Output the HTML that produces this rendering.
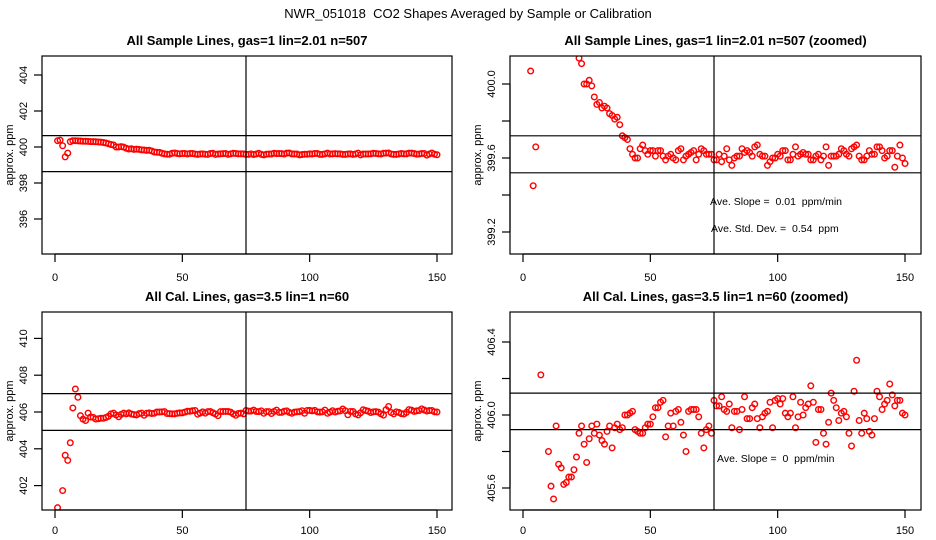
<!DOCTYPE html>
<html><head><meta charset="utf-8"><style>
html,body{margin:0;padding:0;background:#fff;overflow:hidden;width:936px;height:540px;}
svg{display:block;}
svg text{font-family:"Liberation Sans",Arial,sans-serif;fill:#000;white-space:pre;}
</style></head><body>
<svg id="chart" width="936" height="540" viewBox="0 0 936 540" xmlns="http://www.w3.org/2000/svg">
<text x="468" y="18" text-anchor="middle" font-size="13">NWR_051018  CO2 Shapes Averaged by Sample or Calibration</text>
</svg>
<script>
const sampleValues = [400.35,400.38,400.07,399.45,399.66,400.3,400.35,400.35,400.34,400.33,400.32,400.32,400.31,400.3,400.3,400.29,400.28,400.27,400.25,400.22,400.18,400.14,400.11,400.0,400.0,400.02,399.99,399.93,399.89,399.9,399.87,399.88,399.87,399.84,399.83,399.81,399.82,399.78,399.72,399.71,399.70,399.65,399.62,399.60,399.60,399.65,399.67,399.64,399.62,
399.64,399.64,399.61,399.64,399.64,399.61,399.59,399.61,399.62,399.60,
399.59,399.64,399.65,399.59,399.61,399.62,399.63,399.64,399.59,399.62,
399.65,399.64,399.62,399.62,399.62,399.59,399.59,399.62,399.58,399.61,
399.65,399.59,399.56,399.60,399.61,399.61,399.65,399.63,399.64,399.63,
399.61,399.66,399.67,399.62,399.61,399.61,399.56,399.58,399.60,399.60,
399.62,399.61,399.64,399.64,399.59,399.59,399.62,399.66,399.61,399.62,
399.63,399.62,399.62,399.59,399.59,399.61,399.62,399.59,399.61,399.66,
399.56,399.61,399.61,399.61,399.62,399.65,399.64,399.62,399.61,399.65,
399.66,399.67,399.61,399.59,399.59,399.61,399.64,399.62,399.62,399.66,
399.66,399.64,399.60,399.61,399.64,399.64,399.55,399.61,399.67,399.60,399.57];
const calValues = [400.8,400.5,401.73,403.65,403.37,404.33,406.22,407.25,406.8,405.80,
405.61,405.54,405.94,405.73,405.71,405.62,405.63,405.66,405.66,405.70,
405.77,405.90,405.94,405.84,405.74,405.87,405.94,405.90,405.95,405.89,
405.86,405.84,405.91,405.94,405.82,405.93,405.95,405.92,405.93,406.00,
406.00,406.01,406.02,405.92,405.91,405.90,405.90,405.93,405.95,405.95,
405.99,406.04,406.04,406.07,406.08,405.88,405.94,406.01,405.94,406.02,
406.03,405.96,405.89,405.80,406.02,406.03,406.03,406.03,405.99,405.90,
405.82,405.92,405.94,405.90,406.08,406.05,406.05,406.10,406.03,406.02,
406.06,405.93,406.02,406.02,405.92,406.03,406.10,405.98,405.98,406.04,
406.06,405.98,405.93,405.99,406.01,406.02,406.07,405.93,406.08,406.09,
406.06,406.09,406.01,405.99,406.01,406.10,405.93,405.99,406.07,406.00,
406.04,406.06,406.16,406.07,405.85,406.03,406.03,405.90,405.84,405.96,
406.12,406.08,406.04,405.97,406.01,406.02,405.99,405.90,405.83,406.13,
406.30,405.97,405.90,406.01,405.98,405.91,405.89,405.98,406.13,406.10,
406.03,406.06,406.08,406.17,406.11,406.05,406.08,406.08,406.01,406.00];
const xTicks = [0,50,100,150];
const ticksSampleFull = [396,398,400,402,404];
const ticksSampleZoom = [399.2,399.4,399.6,399.8,400.0];
const labelsSampleZoom = ["399.2","","399.6","","400.0"];
const ticksCalFull = [402,404,406,408,410];
const ticksCalZoom = [405.6,405.8,406.0,406.2,406.4];
const labelsCalZoom = ["405.6","","406.0","","406.4"];
const hlinesSampleFull = [398.63,400.63];
const hlinesSampleZoom = [399.52,399.72];
const hlinesCalFull = [405,407];
const hlinesCalZoom = [405.92,406.12];
const vlineX = 75;

const NS="http://www.w3.org/2000/svg";
const svg=document.getElementById('chart');
function mk(tag,attrs,parent){const e=document.createElementNS(NS,tag);for(const k in attrs)e.setAttribute(k,attrs[k]);(parent||svg).appendChild(e);return e;}

function panel(id,title,box,x0px,x150px,yRef,yRefPx,pxPerPpm,values,ticks,labels,hlines,notes,labOff){
  const g=mk('g',{});
  
  
  const sx=v=>x0px+(x150px-x0px)*v/150;
  const sy=v=>yRefPx-(v-yRef)*pxPerPpm;
  const t=mk('text',{x:(box.l+box.r)/2,y:box.t-11,'text-anchor':'middle','font-size':13,'font-weight':'bold'},g);
  t.textContent=title;
  
  
  const cp=mk('clipPath',{id:'clip-'+id},g);
  mk('rect',{x:box.l,y:box.t,width:box.r-box.l,height:box.b-box.t},cp);
  const pts=mk('g',{'clip-path':'url(#clip-'+id+')'},g);
  
  
  values.forEach((v,i)=>{
    const cy=sy(v);
    if(cy<box.t-4||cy>box.b+4) return;
    const c=mk('circle',{cx:sx(i+1),cy:cy,r:2.8,fill:'none',stroke:'#ff0000','stroke-width':1.4},pts);
    
    
  });
  hlines.forEach(h=>{
    const l=mk('line',{x1:box.l,x2:box.r,y1:sy(h),y2:sy(h),stroke:'#000','stroke-width':1.2},g);
    
    
  });
  const vl=mk('line',{x1:sx(vlineX),x2:sx(vlineX),y1:box.t,y2:box.b,stroke:'#000','stroke-width':1.2},g);
  
  
  const fr=mk('rect',{x:box.l,y:box.t,width:box.r-box.l,height:box.b-box.t,fill:'none',stroke:'#000','stroke-width':1.2},g);
  
  
  mk('line',{x1:sx(0),x2:sx(150),y1:box.b,y2:box.b,stroke:'#000','stroke-width':1.2},g);
  xTicks.forEach(v=>{
    mk('line',{x1:sx(v),x2:sx(v),y1:box.b,y2:box.b+8,stroke:'#000','stroke-width':1.2},g);
    const tl=mk('text',{x:sx(v),y:box.b+labOff,'text-anchor':'middle','font-size':11},g);
    tl.textContent=v;
    
    
  });
  mk('line',{x1:box.l,x2:box.l,y1:sy(ticks[0]),y2:sy(ticks[ticks.length-1]),stroke:'#000','stroke-width':1.2},g);
  ticks.forEach((v,i)=>{
    const y=sy(v);
    mk('line',{x1:box.l-8,x2:box.l,y1:y,y2:y,stroke:'#000','stroke-width':1.2},g);
    if(labels[i]){
      const tl=mk('text',{x:box.l-15,y:y,'text-anchor':'middle','font-size':11,transform:'rotate(-90 '+(box.l-15)+' '+y+')'},g);
      tl.textContent=labels[i];
      
      
    }
  });
  const yc=(box.t+box.b)/2, yx=box.l-29;
  const yt=mk('text',{x:yx,y:yc,'text-anchor':'middle','font-size':11,transform:'rotate(-90 '+yx+' '+yc+')'},g);
  yt.textContent='approx. ppm';
  
  
  notes.forEach(n=>{
    const nt=mk('text',{x:n.x,y:n.y,'font-size':10.5},g);
    nt.textContent=n.s;
    
    
  });
}
const topBox={l:42,r:452,t:56,b:254}, topBoxR={l:510,r:921,t:56,b:254};
const botBox={l:42,r:452,t:312,b:510}, botBoxR={l:510,r:921,t:312,b:510};
panel('sample-full','All Sample Lines, gas=1 lin=2.01 n=507',topBox,55,437,400,147,18,sampleValues,ticksSampleFull,ticksSampleFull.map(String),hlinesSampleFull,[],27);
panel('sample-zoom','All Sample Lines, gas=1 lin=2.01 n=507 (zoomed)',topBoxR,523,905,400,84,185,sampleValues,ticksSampleZoom,labelsSampleZoom,hlinesSampleZoom,
  [{x:710,y:205,s:'Ave. Slope =  0.01  ppm/min'},{x:711,y:232,s:'Ave. Std. Dev. =  0.54  ppm'}],27);
panel('cal-full','All Cal. Lines, gas=3.5 lin=1 n=60',botBox,55,437,406,412,18.4,calValues,ticksCalFull,ticksCalFull.map(String),hlinesCalFull,[],24);
panel('cal-zoom','All Cal. Lines, gas=3.5 lin=1 n=60 (zoomed)',botBoxR,523,905,406,415,182.5,calValues,ticksCalZoom,labelsCalZoom,hlinesCalZoom,
  [{x:717,y:462,s:'Ave. Slope =  0  ppm/min'}],24);
</script>
</body></html>
